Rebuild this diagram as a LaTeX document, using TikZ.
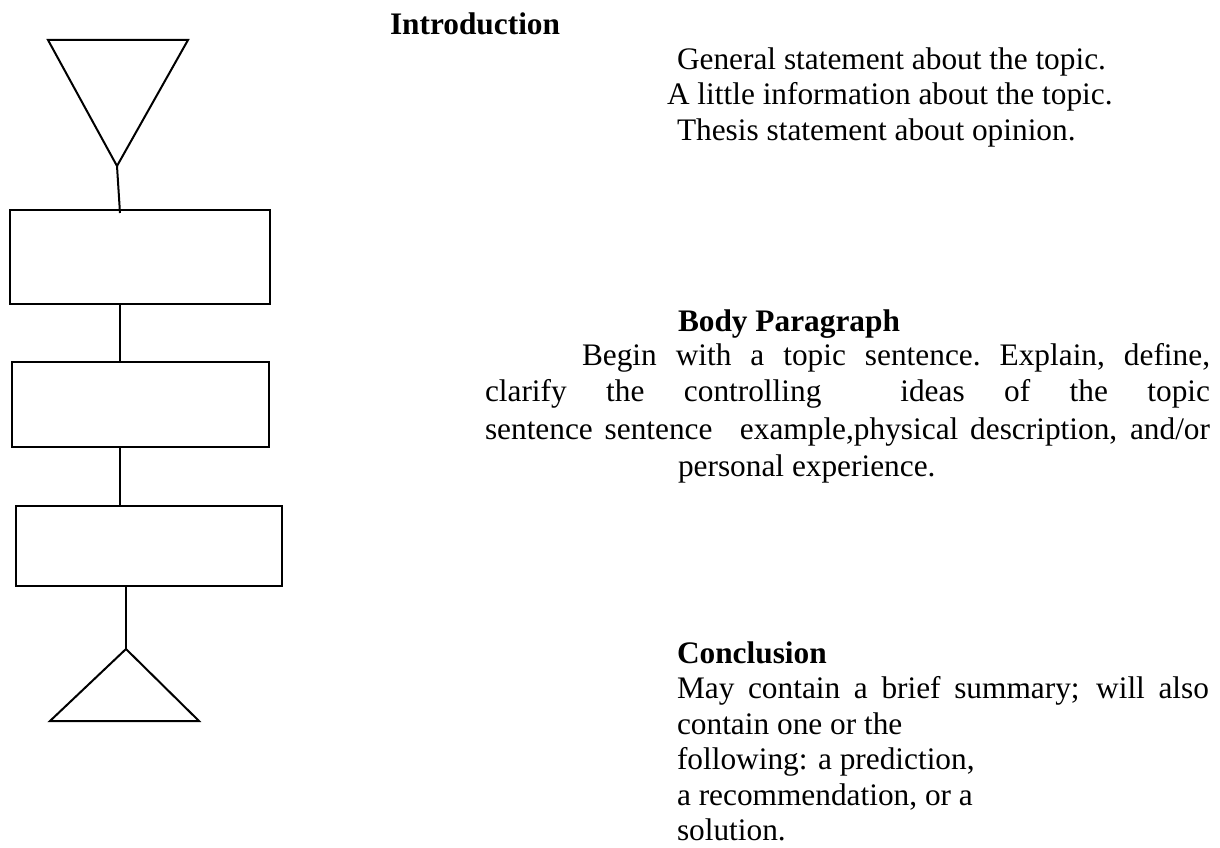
\documentclass[tikz,border=0pt]{standalone}
\usepackage{fontspec}
\setmainfont{Liberation Serif}
\newcommand\bodyfont{\fontsize{23.5}{27}\selectfont}
\begin{document}
\begin{tikzpicture}[x=0.75pt,y=-0.75pt,
  shapeline/.style={draw=black, line width=1.5pt, line join=miter},
  boxnode/.style={shapeline, rectangle, inner sep=0pt, outer sep=0pt},
  txt/.style={anchor=base west, inner sep=0pt, outer sep=0pt, font=\bodyfont},
  head/.style={txt, font=\bodyfont\bfseries}]
\path[use as bounding box] (0,0) rectangle (1220,848);

% top funnel triangle
\coordinate (t1a) at (48,40);
\coordinate (t1b) at (188,40);
\coordinate (t1c) at (117,166);
\draw[shapeline] (t1a) -- (t1b) -- (t1c) -- cycle;

% boxes
\node[boxnode, minimum width=195pt, minimum height=70.5pt] (r1) at (140,257) {};
\node[boxnode, minimum width=192.75pt, minimum height=63.75pt] (r2) at (140.5,404.5) {};
\node[boxnode, minimum width=199.5pt, minimum height=60pt] (r3) at (149,546) {};

% bottom triangle
\coordinate (t2a) at (126,649);
\coordinate (t2b) at (199,721);
\coordinate (t2c) at (50,721);
\draw[shapeline] (t2a) -- (t2b) -- (t2c) -- cycle;

% connectors
\coordinate (cx) at (120,0);
\coordinate (cy) at (126,0);
\coordinate (c1) at (120,213);
\draw[shapeline] (t1c) -- (c1);
\draw[shapeline] (r1.south -| cx) -- (r2.north -| cx);
\draw[shapeline] (r2.south -| cx) -- (r3.north -| cx);
\draw[shapeline] (r3.south -| cy) -- (t2a);

% Introduction
\node[head] (ih) at (390,35) {Introduction};
\node[txt] (i1) at (677,70) {General statement about the topic.};
\node[txt] (i2) at (667,105) {A little information about the topic.};
\node[txt] (i3) at (677,141) {Thesis statement about opinion.};

% Body paragraph
\node[head] (bh) at (678,332) {Body Paragraph};
\node[txt] (b1) at (582,366) {\makebox[471pt][s]{Begin\hfill with\hfill a\hfill topic\hfill sentence.\hfill Explain,\hfill define,}};
\node[txt] (b2) at (485,402) {\makebox[543.75pt][s]{clarify\hfill the\hfill controlling\hfill\hfill ideas\hfill of\hfill the\hfill topic}};
\node[txt] (b3) at (485,439) {\makebox[543.75pt][s]{sentence sentence\hspace{0.5em} example,physical description, and/or}};
\node[txt] (b4) at (678,476) {personal experience.};

% Conclusion
\node[head] (ch) at (677,663) {Conclusion};
\node[txt] (k1) at (677,698.5) {\makebox[399pt][s]{May contain a brief summary; will also}};
\node[txt] (k2) at (677,734) {contain one or the};
\node[txt] (k3) at (677,769.5) {following: a prediction,};
\node[txt] (k4) at (677,805) {a recommendation, or a};
\node[txt] (k5) at (677,840) {solution.};
\end{tikzpicture}
\end{document}
